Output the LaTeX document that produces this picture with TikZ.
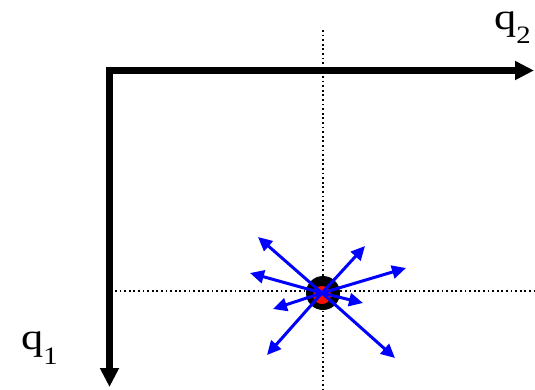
\documentclass[tikz,border=0pt]{standalone}
\usepackage{fontspec}
\setmainfont{Liberation Serif}
\usetikzlibrary{arrows.meta}
\begin{document}
\begin{tikzpicture}[x=1pt, y=-1pt]
			\useasboundingbox (0,0) rectangle (535,389);
			% dotted guide lines through the point
			\draw[line width=1.8pt, dash pattern=on 1.8pt off 2.8pt] (323,30) -- (323,389);
			\draw[line width=1.8pt, dash pattern=on 1.8pt off 2.8pt] (115,291) -- (535,291);
			% axes
			\draw[line width=6.5pt, {Triangle[length=19pt,width=18pt]}-{Triangle[length=19pt,width=18pt]}] (109.5,387) |- (534,70.5);
			\node[font=\fontsize{37}{37}\selectfont, anchor=base west, inner sep=0pt] (labq2) at (494,29) {\scalebox{1.2}[1]{q}\raisebox{-14pt}{\fontsize{25}{25}\selectfont\scalebox{1.15}[1]{2}}};
			\node[font=\fontsize{37}{37}\selectfont, anchor=base west, inner sep=0pt] (labq1) at (21,349) {\scalebox{1.2}[1]{q}\raisebox{-15pt}{\fontsize{25}{25}\selectfont\scalebox{1.15}[1]{1}}};
			% point
			\coordinate (c) at (322,293);
			\fill[black] (323,293) circle (17);
			\fill[red!90!orange] (322,295) circle (9);
			\foreach \tip in {(258,237),(250,273),(273,309),(267,355),(365,246),(406,268),(363,303),(395,358)} {
				\draw[blue, line width=3pt, -{Triangle[length=14pt,width=13pt]}] (c) -- \tip;
			}
		\end{tikzpicture}
\end{document}
